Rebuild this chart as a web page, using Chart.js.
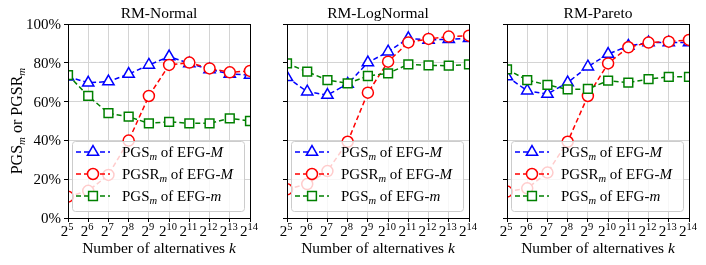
<!DOCTYPE html>
<html>
<head>
<meta charset="utf-8">
<script src="https://cdn.jsdelivr.net/npm/chart.js@4.4.1/dist/chart.umd.min.js"></script>
<style>
  body { margin: 0; background: #fff; }
  #wrap { position: relative; width: 706px; height: 265px; }
  canvas { position: absolute; left: 0; top: 0; }
</style>
</head>
<body>
<div id="wrap">
  <canvas id="c0" width="706" height="265"></canvas>
  <canvas id="c1" width="706" height="265"></canvas>
  <canvas id="c2" width="706" height="265"></canvas>
</div>
<script>
// x categories are powers of two: 2^5 ... 2^14
const exponents = [5, 6, 7, 8, 9, 10, 11, 12, 13, 14];
const yTicks = [0, 20, 40, 60, 80, 100];
const panelTitles = ['RM-Normal', 'RM-LogNormal', 'RM-Pareto'];

// RM-Normal
const normalPGS_M  = [72.8, 69.7, 70.3, 74.2, 78.9, 83.2, 79.7, 76.6, 74.2, 73.7];
const normalPGSR_M = [11.0, 14.0, 22.2, 39.9, 62.9, 78.9, 80.1, 77.1, 75.1, 75.8];
const normalPGS_m  = [73.7, 62.9, 54.0, 52.2, 48.8, 49.6, 48.8, 48.8, 51.4, 50.0];
// RM-LogNormal
const logPGS_M  = [72.5, 65.1, 63.4, 69.1, 80.1, 85.7, 92.6, 91.8, 92.1, 92.6];
const logPGSR_M = [14.8, 17.5, 24.2, 39.3, 64.6, 80.6, 90.5, 92.3, 93.5, 94.0];
const logPGS_m  = [79.7, 75.4, 71.1, 69.4, 73.2, 74.6, 79.2, 78.7, 78.5, 79.2];
// RM-Pareto
const paretoPGS_M  = [72.9, 65.6, 63.9, 69.8, 78.0, 84.5, 88.7, 90.4, 90.4, 90.4];
const paretoPGSR_M = [13.6, 15.3, 23.4, 39.3, 62.9, 79.7, 88.0, 90.4, 90.9, 91.8];
const paretoPGS_m  = [76.6, 71.1, 68.6, 66.3, 66.5, 70.8, 69.8, 71.6, 72.8, 72.8];

const SERIF = '"Liberation Serif", "Times New Roman", serif';
const font = (size, italic) => (italic ? 'italic ' : '') + size + 'px ' + SERIF;

// series styles: blue triangles, red circles, green squares
const styles = [
  { color: '#0000ff', pointStyle: 'triangle', radius: 6.5, order: 3 },
  { color: '#ff0000', pointStyle: 'circle', radius: 5.5, order: 2 },
  { color: '#008000', pointStyle: 'rect', radius: 6.2, order: 1 }
];
const legendLabels = [
  [{ t: 'PGS', s: 15 }, { t: 'm', s: 10.5, i: true, dy: 3 }, { t: ' of EFG-', s: 15 }, { t: 'M', s: 15, i: true }],
  [{ t: 'PGSR', s: 15 }, { t: 'm', s: 10.5, i: true, dy: 3 }, { t: ' of EFG-', s: 15 }, { t: 'M', s: 15, i: true }],
  [{ t: 'PGS', s: 15 }, { t: 'm', s: 10.5, i: true, dy: 3 }, { t: ' of EFG-', s: 15 }, { t: 'm', s: 15, i: true }]
];

function richWidth(ctx, parts) {
  let w = 0;
  parts.forEach(p => { ctx.font = font(p.s, p.i); w += ctx.measureText(p.t).width; });
  return w;
}
function drawRich(ctx, parts, x, y, align) {
  const w = richWidth(ctx, parts);
  let cx = align === 'center' ? x - w / 2 : align === 'right' ? x - w : x;
  ctx.textAlign = 'left';
  ctx.textBaseline = 'alphabetic';
  parts.forEach(p => {
    ctx.font = font(p.s, p.i);
    ctx.fillText(p.t, cx, y + (p.dy || 0));
    cx += ctx.measureText(p.t).width;
  });
}

// draws frame, tick labels, titles and legend (matplotlib look)
const deco = {
  id: 'deco',
  afterDraw(chart, args, opts) {
    const ctx = chart.ctx;
    const ca = chart.chartArea;
    const xs = chart.scales.x, ys = chart.scales.y;
    ctx.save();
    ctx.fillStyle = '#000';

    // frame
    ctx.strokeStyle = '#000';
    ctx.lineWidth = 1;
    ctx.strokeRect(Math.round(ca.left) + 0.5, Math.round(ca.top) + 0.5,
      Math.round(ca.right - ca.left), Math.round(ca.bottom - ca.top));

    // x tick labels 2^n
    exponents.forEach((e, k) => {
      const x = xs.getPixelForValue(k);
      drawRich(ctx, [{ t: '2', s: 15 }, { t: String(e), s: 10.5, dy: -6.5 }], x - 1, 236, 'center');
    });

    // y tick labels
    if (opts.showY) {
      yTicks.forEach(v => {
        drawRich(ctx, [{ t: v + '%', s: 15 }], ca.left - 7, ys.getPixelForValue(v) + 5, 'right');
      });
      ctx.save();
      ctx.translate(22, (ca.top + ca.bottom) / 2);
      ctx.rotate(-Math.PI / 2);
      drawRich(ctx, [{ t: 'PGS', s: 16 }, { t: 'm', s: 11, i: true, dy: 3 },
        { t: ' or PGSR', s: 16 }, { t: 'm', s: 11, i: true, dy: 3 }], 0, 0, 'center');
      ctx.restore();
    }

    // titles
    const cx = (ca.left + ca.right) / 2;
    drawRich(ctx, [{ t: panelTitles[opts.idx], s: 15.5 }], cx, 18, 'center');
    drawRich(ctx, [{ t: 'Number of alternatives ', s: 15.5 }, { t: 'k', s: 15.5, i: true }], cx, 253, 'center');

    // legend box
    const bx = ca.left + 4, by = 141, bw = ca.right - 6 - bx, bh = 70;
    ctx.beginPath();
    ctx.roundRect(bx + 0.5, by + 0.5, bw, bh, 3);
    ctx.fillStyle = 'rgba(255,255,255,0.8)';
    ctx.fill();
    ctx.strokeStyle = '#cccccc';
    ctx.lineWidth = 1;
    ctx.stroke();

    const rows = [152, 174, 196];
    styles.forEach((st, k) => {
      const y = rows[k];
      ctx.save();
      ctx.strokeStyle = st.color;
      ctx.lineWidth = 1.5;
      ctx.setLineDash([5, 3]);
      ctx.beginPath();
      ctx.moveTo(ca.left + 8, y);
      ctx.lineTo(ca.left + 42, y);
      ctx.stroke();
      ctx.restore();
      ctx.fillStyle = '#fff';
      ctx.strokeStyle = st.color;
      ctx.lineWidth = 1.5;
      Chart.helpers.drawPoint(ctx, { pointStyle: st.pointStyle, radius: st.radius, borderWidth: 1.5, rotation: 0 },
        ca.left + 25, y);
      ctx.fillStyle = '#000';
      drawRich(ctx, legendLabels[k], ca.left + 54, y + 5, 'left');
    });
    ctx.restore();
  }
};

function makePanel(idx, left, right, series) {
  const gridOpts = { color: '#d4d4d4', lineWidth: 1, tickColor: '#000', tickLength: 4, drawTicks: true };
  new Chart(document.getElementById('c' + idx), {
    type: 'line',
    data: {
      labels: exponents,
      datasets: series.map((d, k) => ({
        data: d,
        borderColor: styles[k].color,
        borderWidth: 1.5,
        borderDash: [5, 3],
        pointStyle: styles[k].pointStyle,
        pointRadius: styles[k].radius,
        pointBackgroundColor: '#fff',
        pointBorderColor: styles[k].color,
        pointBorderWidth: 1.5,
        tension: 0,
        fill: false,
        clip: 0,
        order: styles[k].order
      }))
    },
    options: {
      responsive: false,
      animation: false,
      devicePixelRatio: 1,
      layout: { padding: { left: left, right: 706 - right, top: 24, bottom: 47 } },
      plugins: {
        legend: { display: false },
        tooltip: { enabled: false },
        title: { display: false },
        deco: { idx: idx, showY: idx === 0 }
      },
      scales: {
        x: {
          type: 'category',
          offset: false,
          grid: Object.assign({ offset: false }, gridOpts),
          border: { display: false },
          ticks: { display: false },
          afterFit: s => { s.height = 0; }
        },
        y: {
          min: 0,
          max: 100,
          ticks: { stepSize: 20, display: false },
          grid: gridOpts,
          border: { display: false },
          afterFit: s => { s.width = 0; }
        }
      }
    },
    plugins: [deco]
  });
}

makePanel(0, 68, 250, [normalPGS_M, normalPGSR_M, normalPGS_m]);
makePanel(1, 287, 469, [logPGS_M, logPGSR_M, logPGS_m]);
makePanel(2, 507, 689, [paretoPGS_M, paretoPGSR_M, paretoPGS_m]);
</script>
</body>
</html>
